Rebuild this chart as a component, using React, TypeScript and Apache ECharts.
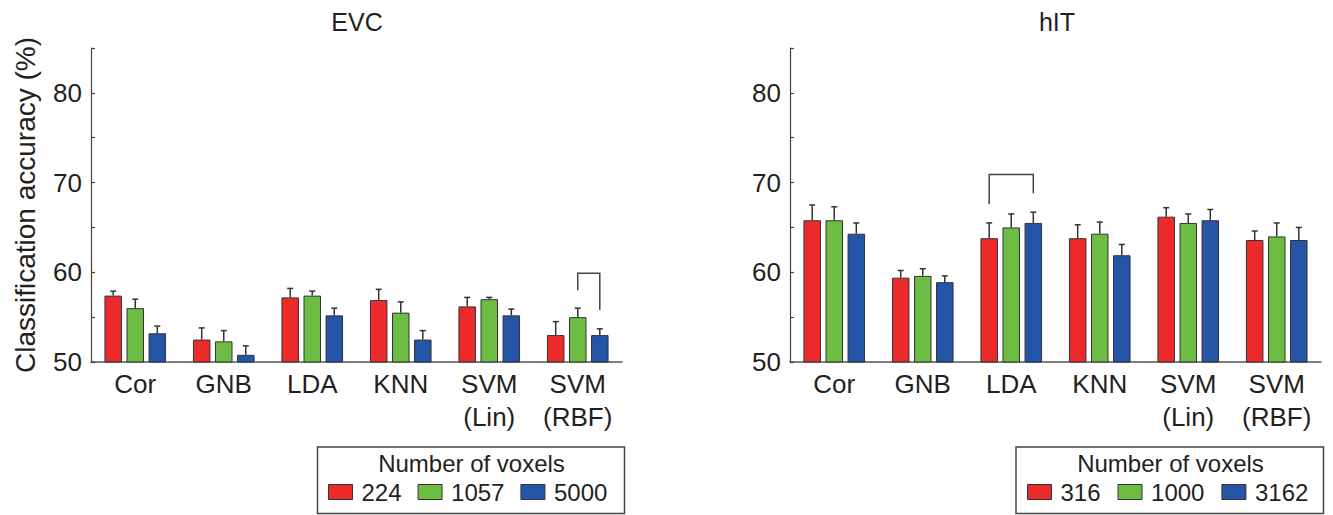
import React, { useEffect, useRef } from "react";
import * as echarts from "echarts";

// ---- data ----
const categories = ["Cor", "GNB", "LDA", "KNN", "SVM\n(Lin)", "SVM\n(RBF)"];

const evcNames = ["224", "1057", "5000"];
const evc224 = [57.4, 52.5, 57.2, 56.9, 56.2, 53.0];
const evc224Err = [0.5, 1.3, 1.0, 1.2, 1.0, 1.5];
const evc1057 = [56.0, 52.3, 57.4, 55.5, 57.0, 55.0];
const evc1057Err = [1.0, 1.2, 0.5, 1.2, 0.2, 1.0];
const evc5000 = [53.2, 50.8, 55.2, 52.5, 55.2, 53.0];
const evc5000Err = [0.8, 1.0, 0.8, 1.0, 0.7, 0.7];

const hitNames = ["316", "1000", "3162"];
const hit316 = [65.8, 59.4, 63.8, 63.8, 66.2, 63.6];
const hit316Err = [1.7, 0.8, 1.7, 1.5, 1.0, 1.0];
const hit1000 = [65.8, 59.6, 65.0, 64.3, 65.5, 64.0];
const hit1000Err = [1.5, 0.8, 1.5, 1.3, 1.0, 1.5];
const hit3162 = [64.3, 58.9, 65.5, 61.9, 65.8, 63.6];
const hit3162Err = [1.2, 0.7, 1.2, 1.2, 1.2, 1.4];

// bracket: [categoryIndex, fromSeries, toSeries, topValue, leftEndValue, rightEndValue]
const evcBracket = [5, 1, 2, 59.9, 58.0, 55.8];
const hitBracket = [2, 0, 2, 70.9, 67.6, 68.8];

const yTicks = { min: 50, max: 85, interval: 5 };
const legendTitle = "Number of voxels";
const yAxisTitle = "Classification accuracy (%)";

// ---- style ----
const COLORS = ["#ec2a2c", "#6dbd45", "#2455a6"];
const FONT = "'Liberation Sans', Arial, Helvetica, sans-serif";
const TEXT = "#231f20";
const BAR_W = 17.5;
const GAP_RATIO = 0.26;
const STEP = BAR_W * (1 + GAP_RATIO);

export default function App() {
  const ref = useRef<HTMLDivElement>(null);

  useEffect(() => {
    if (!ref.current) return;
    const chart = echarts.init(ref.current, undefined, { renderer: "svg" });

    const grids = [
      { left: 91, right: 711, top: 48, bottom: 153 },
      { left: 790, right: 12, top: 48, bottom: 153 },
    ];

    const xAxes = grids.map((_, i) => ({
      type: "category",
      gridIndex: i,
      data: categories,
      axisLine: { lineStyle: { color: "#555", width: 1.5 } },
      axisTick: { show: false },
      axisLabel: {
        color: TEXT,
        fontFamily: FONT,
        fontSize: 26,
        lineHeight: 33,
        margin: 5,
        interval: 0,
      },
    }));

    const yAxes = grids.map((_, i) => ({
      type: "value",
      gridIndex: i,
      min: yTicks.min,
      max: yTicks.max,
      interval: yTicks.interval,
      name: i === 0 ? yAxisTitle : "",
      nameLocation: "middle",
      nameGap: 52,
      nameTextStyle: { color: TEXT, fontFamily: FONT, fontSize: 28 },
      splitLine: { show: false },
      axisLine: { show: true, lineStyle: { color: "#444", width: 1.2 } },
      axisTick: { show: true, inside: true, length: 4, lineStyle: { color: "#444", width: 1.2 } },
      axisLabel: {
        color: TEXT,
        fontFamily: FONT,
        fontSize: 26,
        margin: 9,
        formatter: (v: number) => (v % 10 === 0 ? String(v) : ""),
      },
    }));

    const barSeries = (name: string, data: number[], idx: number, gi: number) => ({
      type: "bar",
      name,
      xAxisIndex: gi,
      yAxisIndex: gi,
      data,
      barWidth: BAR_W,
      barGap: GAP_RATIO * 100 + "%",
      itemStyle: { color: COLORS[idx], borderColor: "#333", borderWidth: 1 },
      emphasis: { disabled: true },
    });

    const errSeries = (means: number[], errs: number[], idx: number, gi: number) => ({
      type: "custom",
      name: "err" + gi + "_" + idx,
      xAxisIndex: gi,
      yAxisIndex: gi,
      data: means.map((m, c) => [c, m, errs[c]]),
      z: 5,
      renderItem: (params: any, api: any) => {
        const c = api.value(0);
        const m = api.value(1);
        const e = api.value(2);
        const base = api.coord([c, m]);
        const top = api.coord([c, m + e]);
        const x = base[0] + (idx - 1) * STEP;
        const st = { stroke: "#333", lineWidth: 1.5 };
        return {
          type: "group",
          children: [
            { type: "line", shape: { x1: x, y1: base[1], x2: x, y2: top[1] }, style: st },
            { type: "line", shape: { x1: x - 3, y1: top[1], x2: x + 3, y2: top[1] }, style: st },
          ],
        };
      },
    });

    const bracketSeries = (b: number[], gi: number) => ({
      type: "custom",
      name: "bracket" + gi,
      xAxisIndex: gi,
      yAxisIndex: gi,
      data: [b],
      z: 5,
      renderItem: (params: any, api: any) => {
        const c = api.value(0);
        const from = api.value(1);
        const to = api.value(2);
        const topY = api.coord([c, api.value(3)])[1];
        const lY = api.coord([c, api.value(4)])[1];
        const rY = api.coord([c, api.value(5)])[1];
        const cx = api.coord([c, api.value(3)])[0];
        const x1 = cx + (from - 1) * STEP;
        const x2 = cx + (to - 1) * STEP;
        return {
          type: "polyline",
          shape: { points: [[x1, lY], [x1, topY], [x2, topY], [x2, rY]] },
          style: { stroke: "#444", lineWidth: 1.5, fill: "none" },
        };
      },
    });

    const evcMeans = [evc224, evc1057, evc5000];
    const evcErrs = [evc224Err, evc1057Err, evc5000Err];
    const hitMeans = [hit316, hit1000, hit3162];
    const hitErrs = [hit316Err, hit1000Err, hit3162Err];

    const series: any[] = [];
    evcMeans.forEach((d, i) => series.push(barSeries(evcNames[i], d, i, 0)));
    hitMeans.forEach((d, i) => series.push(barSeries(hitNames[i], d, i, 1)));
    evcMeans.forEach((d, i) => series.push(errSeries(d, evcErrs[i], i, 0)));
    hitMeans.forEach((d, i) => series.push(errSeries(d, hitErrs[i], i, 1)));
    series.push(bracketSeries(evcBracket, 0));
    series.push(bracketSeries(hitBracket, 1));

    const legendCommon = {
      top: 480,
      orient: "horizontal",
      icon: "rect",
      itemWidth: 24,
      itemHeight: 15,
      padding: 0,
      selectedMode: false,
      textStyle: { color: TEXT, fontFamily: FONT, fontSize: 24, lineHeight: 24, padding: [0, 0, 0, 4] },
      itemStyle: { borderColor: "#333", borderWidth: 1 },
    };

    const option: any = {
      animation: false,
      grid: grids,
      xAxis: xAxes,
      yAxis: yAxes,
      series,
      legend: [
        { ...legendCommon, left: 328, itemGap: 16, data: evcNames },
        { ...legendCommon, left: 1027, itemGap: 17, data: hitNames },
      ],
      graphic: [
        {
          type: "text",
          x: 357,
          y: 22,
          style: { text: "EVC", fill: TEXT, font: `25px ${FONT}`, textAlign: "center", textVerticalAlign: "middle" },
        },
        {
          type: "text",
          x: 1057,
          y: 22,
          style: { text: "hIT", fill: TEXT, font: `25px ${FONT}`, textAlign: "center", textVerticalAlign: "middle" },
        },
        {
          type: "rect",
          shape: { x: 317.5, y: 447, width: 307, height: 66.5 },
          style: { fill: "none", stroke: "#444", lineWidth: 1.5 },
        },
        {
          type: "rect",
          shape: { x: 1016, y: 447, width: 307.5, height: 66.5 },
          style: { fill: "none", stroke: "#444", lineWidth: 1.5 },
        },
        {
          type: "text",
          x: 471.5,
          y: 463.5,
          style: { text: legendTitle, fill: TEXT, font: `24px ${FONT}`, textAlign: "center", textVerticalAlign: "middle" },
        },
        {
          type: "text",
          x: 1170.5,
          y: 463.5,
          style: { text: legendTitle, fill: TEXT, font: `24px ${FONT}`, textAlign: "center", textVerticalAlign: "middle" },
        },
      ],
    };

    chart.setOption(option);
    return () => chart.dispose();
  }, []);

  return (
    <div
      ref={ref}
      style={{ position: "fixed", left: 0, top: 0, width: 1333, height: 515, background: "#fff" }}
    />
  );
}
